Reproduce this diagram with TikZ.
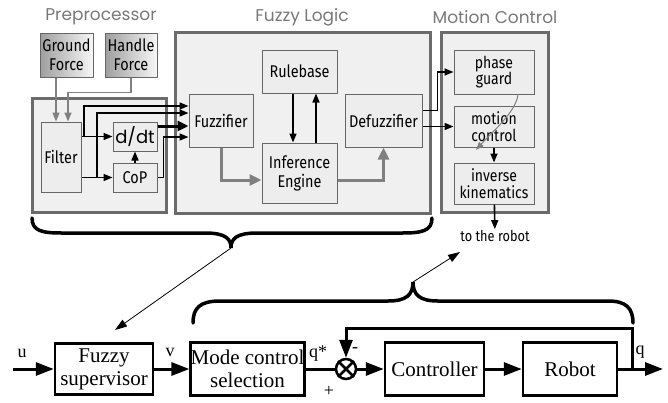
\documentclass[tikz,border=0pt]{standalone}
\usepackage{fontspec}
\setmainfont{Liberation Serif}
\newfontfamily\titlefont{Poppins}
\newfontfamily\boxfont[FakeStretch=0.85]{Fira Sans}
\usetikzlibrary{arrows.meta}
\definecolor{panelline}{gray}{0.42}
\definecolor{panelfill}{gray}{0.94}
\definecolor{blkline}{gray}{0.40}
\definecolor{blkfill}{gray}{0.93}
\definecolor{titlegray}{gray}{0.47}
\definecolor{arrowgray}{gray}{0.50}

\begin{document}
\begin{tikzpicture}[x=1pt,y=-1pt,
  panel/.style={draw=panelline,fill=panelfill,line width=3pt,inner sep=0pt},
  blk/.style={draw=blkline,fill=blkfill,line width=1pt,inner sep=0pt,align=center,font=\boxfont\fontsize{17}{19}\selectfont},
  tight/.style={font=\boxfont\fontsize{16.5}{16.5}\selectfont},
  title/.style={font=\titlefont\fontsize{17}{20}\selectfont,text=titlegray},
  barr/.style={line width=1.6pt,-{Triangle[length=9pt,width=7pt]}},
  garr/.style={draw=arrowgray,line width=1.6pt,-{Triangle[length=9pt,width=7pt]}},
  fatarr/.style={draw=arrowgray,line width=3pt,-{Triangle[length=12pt,width=11pt]}},
  sysblk/.style={draw,line width=2.5pt,inner sep=0pt,align=center,font=\fontsize{21}{23}\selectfont},
  sig/.style={line width=3pt,-{Triangle[length=18pt,width=13pt]}},
  brace/.style={line width=3.5pt,line cap=round},
  pointer/.style={line width=0.8pt,-{Triangle[length=12pt,width=8pt]}},
  lbl/.style={font=\fontsize{18}{20}\selectfont,inner sep=0pt}]
\useasboundingbox (0,0) rectangle (668,402);

\node (pretitle) at (101,17) [title] {Preprocessor};
\node (fltitle) at (302,17) [title] {Fuzzy Logic};
\node (mctitle) at (495,17) [title] {Motion Control};

\node (pre) at (99,155) [panel,minimum width=134pt,minimum height=114pt] {};
\node (fl) at (302.5,122.5) [panel,minimum width=255pt,minimum height=181pt] {};
\node (mc) at (494.5,122) [panel,minimum width=107pt,minimum height=180pt] {};

\node (ground) at (66.5,55) [blk,left color=black!38,right color=black!3,minimum width=53pt,minimum height=44pt] {Ground\\Force};
\node (handle) at (131,55) [blk,left color=black!38,right color=black!3,minimum width=52pt,minimum height=44pt] {Handle\\Force};
\node (filter) at (61,157) [blk,minimum width=40pt,minimum height=70pt] {Filter};
\node (ddt) at (135,136.5) [blk,minimum width=44pt,minimum height=29pt,font=\titlefont\fontsize{18}{20}\selectfont] {d/dt};
\node (cop) at (135,177.5) [blk,minimum width=44pt,minimum height=29pt] {CoP};

\node (fuzz) at (221,120.5) [blk,minimum width=64pt,minimum height=53pt] {Fuzzifier};
\node (rule) at (299.5,71.5) [blk,minimum width=75pt,minimum height=43pt] {Rulebase};
\node (inf) at (299.5,173) [blk,minimum width=75pt,minimum height=60pt] {Inference\\Engine};
\node (defuzz) at (383.5,120.5) [blk,minimum width=77pt,minimum height=53pt] {Defuzzifier};

\node (phase) at (494,72) [blk,tight,minimum width=80pt,minimum height=44pt] {phase\\guard};
\node (motion) at (494,126.5) [blk,tight,minimum width=80pt,minimum height=41pt] {motion\\control};
\node (inverse) at (494,183.5) [blk,tight,minimum width=80pt,minimum height=41pt] {inverse\\kinematics};
\node (torobot) at (495,236) [font=\boxfont\fontsize{15}{17}\selectfont,inner sep=1pt] {to the robot};

\coordinate (fa) at ([xshift=-5pt]filter.north);
\coordinate (fb) at ([xshift=7pt]filter.north);
\coordinate (j1) at (84,136.5);
\coordinate (j2) at (97,177.5);
\coordinate (f1) at ([yshift=14.5pt]fuzz.west);
\coordinate (f2) at ([yshift=7.5pt]fuzz.west);
\coordinate (f3) at ([yshift=-5.5pt]fuzz.west);
\coordinate (f4) at ([yshift=-16.5pt]fuzz.west);
\draw [garr] (ground.south -| fa) -- (fa);
\draw [garr] (handle.south) -- ++(0,15) -| (fb);
\draw [barr] (filter.east |- ddt) -- (ddt);
\draw [barr] (filter.east |- cop) -- (cop);
\draw [barr] (j1) |- (f1);
\draw [barr] (j2) |- (f2);
\draw [barr,line width=3pt,-{Triangle[length=11pt,width=10pt]}] (ddt.east |- f3) -- (f3);
\draw [barr] (cop.east) -- ++(6,0) |- (f4);
\draw [barr] (cop) -- (ddt);

\draw [barr] ([xshift=-6.5pt]rule.south) -- ([xshift=-6.5pt]inf.north);
\draw [barr] ([xshift=16.5pt]inf.north) -- ([xshift=16.5pt]rule.south);
\draw [fatarr] (fuzz.south) |- ([yshift=-7pt]inf.west);
\draw [fatarr] ([yshift=-7pt]inf.east) -| (defuzz.south);

\draw [barr] ([yshift=10pt]defuzz.east) -- ++(15,0) |- (phase.west);
\draw [barr] (defuzz.east |- motion.west) -- (motion.west);
\draw [barr] (motion) -- (inverse);
\draw [barr] (inverse) -- (torobot);
\coordinate (mcend) at (476,150);
\draw [draw=arrowgray,line width=1pt,-{Triangle[length=8pt,width=6pt]}] ([xshift=24pt]phase.south) .. controls (516,112) and (492,132) .. (mcend);

\draw [brace] (32,218) .. controls (32,231) and (42,233) .. (62,233) -- (205,233) .. controls (226,233) and (231,239) .. (231,248) .. controls (231,239) and (236,233) .. (257,233) -- (402,233) .. controls (422,233) and (432,231) .. (432,218);
\coordinate (toptip) at (231,248);
\coordinate (supin) at (115,330);
\draw [pointer] (toptip) -- (supin);

\draw [brace] (193,323) .. controls (193,308) and (200,301) .. (220,301) -- (388,301) .. controls (406,301) and (413,295) .. (413,282) .. controls (413,295) and (420,301) .. (438,301) -- (608,301) .. controls (626,301) and (633,308) .. (633,323);
\coordinate (bottip) at (413,282);
\coordinate (robotout) at (460,252);
\draw [pointer] (bottip) -- (robotout);

\node (fsup) at (104,369) [sysblk,minimum width=98pt,minimum height=51pt] {Fuzzy\\supervisor};
\node (mode) at (247.5,369) [sysblk,minimum width=105pt,minimum height=53pt] {Mode control\\selection};
\node (sum) at (346,369) [circle,draw,line width=2.5pt,minimum size=20pt,inner sep=0pt] {};
\draw [line width=2.5pt] (sum.north west) -- (sum.south east) (sum.north east) -- (sum.south west);
\node (ctrl) at (434.5,369) [sysblk,minimum width=99pt,minimum height=53pt] {Controller};
\node (robot) at (570,369) [sysblk,minimum width=94pt,minimum height=53pt] {Robot};

\coordinate (uin) at (13,369);
\coordinate (tap) at (632,369);
\coordinate (qout) at (663,369);
\draw [sig] (uin) -- (fsup);
\draw [sig] (fsup) -- (mode);
\draw [line width=3pt] (mode) -- (sum);
\draw [sig] (sum) -- (ctrl);
\draw [sig] (ctrl) -- (robot);
\draw [sig] (robot) -- (qout);
\draw [sig] (tap) -- ++(0,-41) -| (sum);

\node (ulbl) at (22,353) [lbl] {u};
\node (vlbl) at (170,352) [lbl] {v};
\node (qslbl) at (318,354) [lbl] {q*};
\node (pluslbl) at (329,391) [lbl] {+};
\node (minuslbl) at (355,350) [lbl] {-};
\node (qlbl) at (640,352) [lbl] {q};
\end{tikzpicture}
\end{document}
